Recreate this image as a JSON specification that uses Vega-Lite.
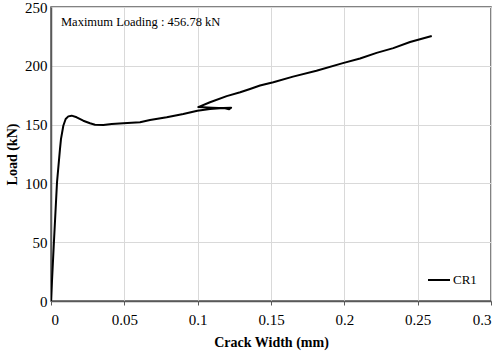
{
  "$schema": "https://vega.github.io/schema/vega-lite/v6.json",
  "width": 440,
  "height": 294,
  "autosize": "none",
  "padding": {"left": 51, "top": 7, "right": 9, "bottom": 53},
  "config": {
    "font": "Liberation Serif",
    "style": {
      "guide-label": {"font": "Liberation Serif", "fill": "#000000"},
      "guide-title": {"font": "Liberation Serif", "fill": "#000000"}
    },
    "view": {"stroke": "#595959", "strokeWidth": 1.5},
    "axis": {
      "labelFont": "Liberation Serif",
      "labelFontSize": 15,
      "labelColor": "#000000",
      "titleFont": "Liberation Serif",
      "titleFontSize": 14,
      "titleFontWeight": "bold",
      "titleColor": "#000000",
      "gridColor": "#d9d9d9",
      "gridWidth": 1,
      "domainColor": "#595959",
      "domainWidth": 1.5,
      "tickColor": "#595959",
      "tickSize": 4
    },
    "legend": {"labelFont": "Liberation Serif"}
  },
  "datasets": {
    "curve": [
      {"i": 1, "w": 0, "load": 0},
      {"i": 2, "w": 0.002, "load": 50.4},
      {"i": 3, "w": 0.0041, "load": 101},
      {"i": 4, "w": 0.0061, "load": 129},
      {"i": 5, "w": 0.0068, "load": 137.7},
      {"i": 6, "w": 0.0084, "load": 149},
      {"i": 7, "w": 0.01, "load": 154.8},
      {"i": 8, "w": 0.0118, "load": 157.0},
      {"i": 9, "w": 0.0141, "load": 157.6},
      {"i": 10, "w": 0.0175, "load": 156.2},
      {"i": 11, "w": 0.022, "load": 153.3},
      {"i": 12, "w": 0.0266, "load": 151.1},
      {"i": 13, "w": 0.03, "load": 149.9},
      {"i": 14, "w": 0.0357, "load": 149.7},
      {"i": 15, "w": 0.0414, "load": 150.5},
      {"i": 16, "w": 0.0493, "load": 151.1},
      {"i": 17, "w": 0.0607, "load": 152.0},
      {"i": 18, "w": 0.0675, "load": 153.9},
      {"i": 19, "w": 0.0789, "load": 156.2},
      {"i": 20, "w": 0.0902, "load": 159.0},
      {"i": 21, "w": 0.0998, "load": 161.8},
      {"i": 22, "w": 0.1084, "load": 163.3},
      {"i": 23, "w": 0.1175, "load": 164.1},
      {"i": 24, "w": 0.1228, "load": 164.4},
      {"i": 25, "w": 0.1214, "load": 163.0},
      {"i": 26, "w": 0.1187, "load": 163.8},
      {"i": 27, "w": 0.11, "load": 164.4},
      {"i": 28, "w": 0.1004, "load": 164.9},
      {"i": 29, "w": 0.1084, "load": 169.0},
      {"i": 30, "w": 0.1198, "load": 174.2},
      {"i": 31, "w": 0.129, "load": 177.5},
      {"i": 32, "w": 0.1357, "load": 180.3},
      {"i": 33, "w": 0.1425, "load": 183.2},
      {"i": 34, "w": 0.1516, "load": 186.0},
      {"i": 35, "w": 0.165, "load": 190.8},
      {"i": 36, "w": 0.181, "load": 195.8},
      {"i": 37, "w": 0.199, "load": 202.3},
      {"i": 38, "w": 0.2107, "load": 206.2},
      {"i": 39, "w": 0.222, "load": 211.0},
      {"i": 40, "w": 0.2334, "load": 215.0},
      {"i": 41, "w": 0.2448, "load": 220.2},
      {"i": 42, "w": 0.2596, "load": 225.4}
    ],
    "note": [
      {"w": 0.0068, "load": 237.5, "label": "Maximum Loading : 456.78 kN"}
    ]
  },
  "layer": [
    {
      "data": {"name": "curve"},
      "transform": [{"calculate": "'CR1'", "as": "series"}],
      "mark": {"type": "line", "strokeWidth": 2, "clip": true, "strokeJoin": "round"},
      "encoding": {
        "x": {
          "field": "w", "type": "quantitative",
          "scale": {"domain": [0, 0.3], "nice": false},
          "axis": {"values": [0, 0.05, 0.1, 0.15, 0.2, 0.25, 0.3], "format": ".2~f", "title": "Crack Width (mm)", "labelFont": "Liberation Serif", "titleFont": "Liberation Serif", "labelPadding": 7, "titlePadding": 8}
        },
        "y": {
          "field": "load", "type": "quantitative",
          "scale": {"domain": [0, 250], "nice": false},
          "axis": {"values": [0, 50, 100, 150, 200, 250], "title": "Load  (kN)", "labelFont": "Liberation Serif", "titleFont": "Liberation Serif", "labelPadding": 4, "titlePadding": 5, "tickSize": 0}
        },
        "order": {"field": "i", "type": "quantitative"},
        "color": {
          "field": "series", "type": "nominal",
          "scale": {"range": ["#000000"]},
          "legend": {
            "title": null,
            "orient": "bottom-right",
            "symbolType": "stroke",
            "symbolStrokeWidth": 2,
            "symbolSize": 484,
            "labelFont": "Liberation Serif",
            "labelFontSize": 13,
            "labelColor": "#000000",
            "labelOffset": 2,
            "offset": 10,
            "padding": 4
          }
        }
      }
    },
    {
      "data": {"name": "note"},
      "mark": {"type": "text", "align": "left", "baseline": "middle", "font": "Liberation Serif", "fontSize": 12.5, "color": "#000000"},
      "encoding": {
        "x": {"field": "w", "type": "quantitative"},
        "y": {"field": "load", "type": "quantitative"},
        "text": {"field": "label"}
      }
    }
  ]
}
